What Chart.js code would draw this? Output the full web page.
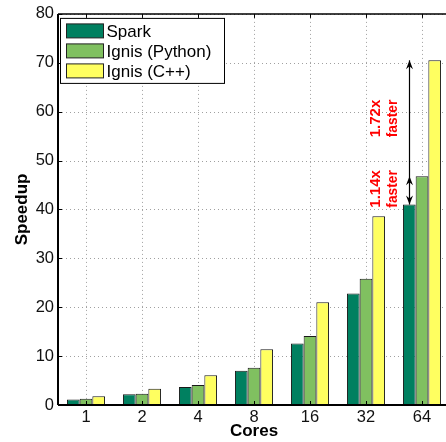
<!DOCTYPE html>
<html>
<head>
<meta charset="utf-8">
<script src="https://cdn.jsdelivr.net/npm/chart.js@4.4.1/dist/chart.umd.min.js"></script>
<style>
  html, body { margin: 0; padding: 0; background: #fff; overflow: hidden; }
  #wrap { width: 452px; height: 442px; }
</style>
</head>
<body>
<div id="wrap"><canvas id="speedupChart"></canvas></div>
<script>
// cores on the x axis
const cores = ['1', '2', '4', '8', '16', '32', '64'];

// speedup per system
const sparkSpeedup = [1.15, 2.2, 3.7, 7.0, 12.6, 22.8, 41.0];
const ignisPythonSpeedup = [1.3, 2.3, 4.1, 7.6, 14.1, 25.8, 46.8];
const ignisCppSpeedup = [1.8, 3.3, 6.1, 11.4, 21.0, 38.6, 70.5];

const seriesNames = ['Spark', 'Ignis (Python)', 'Ignis (C++)'];
const seriesColors = ['#008060', '#80c060', '#ffff60'];

const yTicks = [0, 10, 20, 30, 40, 50, 60, 70, 80];

// red notes: [text, text, value at centre of the text]
const notes = [
    ['1.72x', 'faster', 58.6],
    ['1.14x', 'faster', 44.2]
];

const FONT = '"Liberation Sans", Arial, sans-serif';

// dotted grid behind the bars
const gridPlugin = {
    id: 'dottedGrid',
    beforeDatasetsDraw(chart) {
        const { ctx, chartArea, scales } = chart;
        ctx.save();
        ctx.strokeStyle = '#a0a0a0';
        ctx.lineWidth = 1;
        ctx.setLineDash([1, 3]);
        yTicks.forEach(v => {
            const y = Math.round(scales.y.getPixelForValue(v)) + 0.5;
            ctx.beginPath();
            ctx.moveTo(chartArea.left, y);
            ctx.lineTo(chartArea.right, y);
            ctx.stroke();
        });
        cores.forEach((_, i) => {
            const x = Math.round(scales.x.getPixelForTick(i)) + 0.5;
            ctx.beginPath();
            ctx.moveTo(x, chartArea.top);
            ctx.lineTo(x, chartArea.bottom);
            ctx.stroke();
        });
        ctx.restore();
    }
};

// frame, inward ticks, legend box and the speedup notes
const overlayPlugin = {
    id: 'overlay',
    afterDatasetsDraw(chart) {
        const { ctx, chartArea, scales } = chart;
        const { left, right, top, bottom } = chartArea;
        ctx.save();
        ctx.setLineDash([]);
        ctx.strokeStyle = '#000';

        // frame
        ctx.lineWidth = 1.5;
        ctx.beginPath();
        ctx.moveTo(left, top);
        ctx.lineTo(right, top);
        ctx.stroke();
        ctx.lineWidth = 2;
        ctx.beginPath();
        ctx.moveTo(left, top);
        ctx.lineTo(left, bottom);
        ctx.moveTo(left, bottom);
        ctx.lineTo(right, bottom);
        ctx.stroke();

        // inward ticks
        ctx.lineWidth = 1;
        ctx.beginPath();
        yTicks.forEach(v => {
            const y = Math.round(scales.y.getPixelForValue(v)) + 0.5;
            ctx.moveTo(left, y);
            ctx.lineTo(left + 4, y);
            ctx.moveTo(right, y);
            ctx.lineTo(right - 4, y);
        });
        cores.forEach((_, i) => {
            const x = Math.round(scales.x.getPixelForTick(i)) + 0.5;
            ctx.moveTo(x, top);
            ctx.lineTo(x, top + 4);
            ctx.moveTo(x, bottom);
            ctx.lineTo(x, bottom - 4);
        });
        ctx.stroke();

        // arrows on the 64 core group, over the Spark bar
        const last = cores.length - 1;
        const bar = chart.getDatasetMeta(0).data[last];
        const ax = Math.round(bar.x) + 0.5;
        const ySpark = scales.y.getPixelForValue(sparkSpeedup[last]);
        const yPy = scales.y.getPixelForValue(ignisPythonSpeedup[last]);
        const yCpp = scales.y.getPixelForValue(ignisCppSpeedup[last]);
        ctx.fillStyle = '#000';
        ctx.lineWidth = 1.2;
        ctx.beginPath();
        ctx.moveTo(ax, ySpark);
        ctx.lineTo(ax, yCpp);
        ctx.stroke();
        const head = (y, dir) => {
            ctx.beginPath();
            ctx.moveTo(ax, y);
            ctx.lineTo(ax - 3.5, y + dir * 9);
            ctx.lineTo(ax, y + dir * 6);
            ctx.lineTo(ax + 3.5, y + dir * 9);
            ctx.closePath();
            ctx.fill();
        };
        head(yCpp, 1);
        head(yPy, 1);
        head(ySpark, -1);

        // red notes, rotated
        const cx = scales.x.getPixelForTick(last);
        ctx.fillStyle = '#ff0000';
        ctx.textAlign = 'center';
        ctx.textBaseline = 'middle';
        notes.forEach(([a, b, v]) => {
            const y = scales.y.getPixelForValue(v);
            [[a, cx - 46, 15], [b, cx - 29, 13.8]].forEach(([t, x, size]) => {
                ctx.save();
                ctx.font = 'bold ' + size + 'px ' + FONT;
                ctx.translate(x, y);
                ctx.rotate(-Math.PI / 2);
                ctx.fillText(t, 0, 0);
                ctx.restore();
            });
        });

        // legend box
        const lx = left + 2.5, ly = top + 4.5, lw = 164, lh = 65;
        ctx.fillStyle = '#fff';
        ctx.fillRect(lx, ly, lw, lh);
        ctx.strokeStyle = '#000';
        ctx.lineWidth = 1;
        ctx.strokeRect(lx, ly, lw, lh);
        ctx.font = '17px ' + FONT;
        ctx.textAlign = 'left';
        ctx.textBaseline = 'middle';
        seriesNames.forEach((name, i) => {
            const rowY = ly + 12.5 + i * 20;
            ctx.fillStyle = seriesColors[i];
            ctx.fillRect(lx + 6, rowY - 7, 37, 14);
            ctx.strokeStyle = '#222';
            ctx.strokeRect(lx + 6, rowY - 7, 37, 14);
            ctx.fillStyle = '#000';
            ctx.fillText(name, lx + 46, rowY + 1);
        });
        ctx.restore();
    }
};

const seriesValues = [sparkSpeedup, ignisPythonSpeedup, ignisCppSpeedup];

new Chart(document.getElementById('speedupChart'), {
    type: 'bar',
    data: {
        labels: cores,
        datasets: seriesNames.map((name, i) => ({
            label: name,
            data: seriesValues[i],
            backgroundColor: seriesColors[i],
            borderColor: '#1a1a1a',
            borderWidth: 1,
            barPercentage: 1.0,
            categoryPercentage: 0.68
        }))
    },
    options: {
        responsive: true,
        maintainAspectRatio: false,
        animation: false,
        layout: { padding: { top: 13, right: 2, left: 0, bottom: 0 } },
        plugins: {
            legend: { display: false },
            tooltip: { enabled: false }
        },
        scales: {
            x: {
                grid: { display: false, drawTicks: false },
                border: { display: false },
                ticks: { color: '#111', font: { family: FONT, size: 16.5 }, padding: 3, maxRotation: 0 },
                title: {
                    display: true, text: 'Cores', color: '#000',
                    font: { family: FONT, size: 17, weight: 'bold' },
                    padding: { top: 0, bottom: 0 }
                },
                afterFit(scale) { scale.height = 37; }
            },
            y: {
                min: 0,
                max: 80,
                grid: { display: false, drawTicks: false },
                border: { display: false },
                ticks: { stepSize: 10, color: '#111', font: { family: FONT, size: 16.5 }, padding: 4 },
                title: {
                    display: true, text: 'Speedup', color: '#000',
                    font: { family: FONT, size: 17, weight: 'bold' },
                    padding: { top: 12, bottom: 0 }
                },
                afterFit(scale) { scale.width = 58; }
            }
        }
    },
    plugins: [gridPlugin, overlayPlugin]
});
</script>
</body>
</html>
